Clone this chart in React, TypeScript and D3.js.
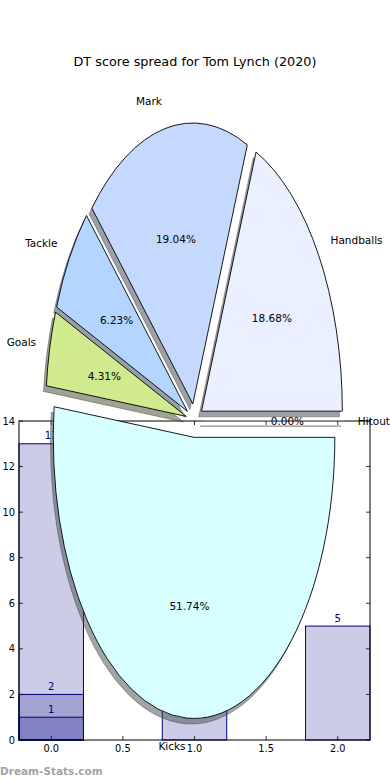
import React from 'react';
import * as d3 from 'd3';

const pieLabels = ['Hitout', 'Handballs', 'Mark', 'Tackle', 'Goals', 'Kicks'];
const piePercents = [0, 18.68, 19.04, 6.23, 4.31, 51.74];
const pieColors = ['#ffffff', '#eaf0ff', '#c5d9ff', '#b3d5ff', '#d0eb8d', '#d8ffff'];

const barPositions = [0, 0, 0, 1, 2];
const barValues = [13, 2, 1, 8, 5];
const yTicks = [0, 2, 4, 6, 8, 10, 12, 14];
const xTicks = [0, 0.5, 1, 1.5, 2];

const W = 390;
const H = 780;
const FONT = 'DejaVu Sans, sans-serif';

// bar axes geometry
const AX_L = 19, AX_R = 370, AX_T = 421, AX_B = 740;
const BAR_W = 0.45;

// pie geometry (stretched, matplotlib non-equal aspect)
const CX = 194.5, CY = 420.5, RX = 140.8, RY = 281;
const EXPLODE = 0.06;

function shade(c: string) {
  const col = d3.rgb(c);
  return d3.rgb(col.r * 0.3, col.g * 0.3, col.b * 0.3).formatHex();
}

export default function App() {
  const xs = d3.scaleLinear().domain([-BAR_W / 2, 2 + BAR_W / 2]).range([AX_L, AX_R]);
  const ys = d3.scaleLinear().domain([0, 14]).range([AX_B, AX_T]);

  const pie = d3.pie<number>().sort(null).value((d) => d)
    .startAngle(Math.PI / 2).endAngle(Math.PI / 2 - 2 * Math.PI);
  const arcs = pie(piePercents);
  const arcGen = d3.arc<d3.PieArcDatum<number>>().innerRadius(0).outerRadius(1);

  const slices = arcs.map((a, i) => {
    const tm = Math.PI / 2 - (a.startAngle + a.endAngle) / 2;
    const ox = CX + EXPLODE * RX * Math.cos(tm);
    const oy = CY - EXPLODE * RY * Math.sin(tm);
    return { a, i, tm, ox, oy };
  });

  const tickStyle = { stroke: '#000', strokeWidth: 0.8 };

  return (
    <svg width={W} height={H} style={{ position: 'absolute', left: 0, top: 0, background: '#fff' }}
      fontFamily={FONT}>
      <rect x={0} y={0} width={W} height={H} fill="#fff" />
      <text x={195} y={61} textAnchor="middle" dominantBaseline="central" fontSize={12.8} fill="#000">
        DT score spread for Tom Lynch (2020)
      </text>

      {/* bar chart */}
      <g>
        {barValues.map((v, i) => {
          const p = barPositions[i];
          const x0 = xs(p - BAR_W / 2);
          const x1 = xs(p + BAR_W / 2);
          return (
            <rect key={'b' + i} x={x0} y={ys(v)} width={x1 - x0} height={ys(0) - ys(v)}
              fill="#000080" fillOpacity={0.2} stroke="#000080" strokeWidth={1} />
          );
        })}
        {barValues.map((v, i) => (
          <text key={'bl' + i} x={xs(barPositions[i])} y={ys(v) - 8} textAnchor="middle"
            dominantBaseline="central" fontSize={10} fill="#000080">{v}</text>
        ))}
        <rect x={AX_L} y={AX_T} width={AX_R - AX_L} height={AX_B - AX_T} fill="none" stroke="#000" strokeWidth={1} />
        {yTicks.map((t) => (
          <g key={'yt' + t}>
            <line x1={AX_L} x2={AX_L + 4} y1={ys(t)} y2={ys(t)} {...tickStyle} />
            <line x1={AX_R - 4} x2={AX_R} y1={ys(t)} y2={ys(t)} {...tickStyle} />
            <text x={AX_L - 4} y={ys(t)} textAnchor="end" dominantBaseline="central" fontSize={9.8} fill="#000">{t}</text>
          </g>
        ))}
        {xTicks.map((t) => (
          <g key={'xt' + t}>
            <line x1={xs(t)} x2={xs(t)} y1={AX_B} y2={AX_B - 4} {...tickStyle} />
            <line x1={xs(t)} x2={xs(t)} y1={AX_T} y2={AX_T + 4} {...tickStyle} />
            <text x={xs(t)} y={AX_B + 8} textAnchor="middle" dominantBaseline="central" fontSize={9.8} fill="#000">{t.toFixed(1)}</text>
          </g>
        ))}
      </g>

      {/* pie shadows */}
      <g>
        {slices.map(({ a, i, ox, oy }) => (
          <path key={'s' + i} d={arcGen(a) || ''}
            transform={`translate(${ox - 0.02 * RX},${oy + 0.02 * RY}) scale(${RX},${RY})`}
            fill={shade(pieColors[i])} fillOpacity={0.5}
            stroke={shade(pieColors[i])} strokeOpacity={0.5} strokeWidth={0.9}
            vectorEffect="non-scaling-stroke" />
        ))}
      </g>
      {/* pie wedges */}
      <g>
        {slices.map(({ a, i, ox, oy }) => (
          <path key={'w' + i} d={arcGen(a) || ''}
            transform={`translate(${ox},${oy}) scale(${RX},${RY})`}
            fill={pieColors[i]} stroke={i === 0 ? '#999' : '#000'} strokeWidth={0.9}
            vectorEffect="non-scaling-stroke" strokeLinejoin="round" />
        ))}
      </g>
      <g>
        {slices.map(({ i, tm, ox, oy }) => {
          const lx = ox + 1.1 * RX * Math.cos(tm);
          const ly = oy - 1.1 * RY * Math.sin(tm);
          const px = ox + 0.6 * RX * Math.cos(tm);
          const py = oy - 0.6 * RY * Math.sin(tm);
          return (
            <g key={'t' + i}>
              <text x={lx} y={ly} textAnchor={Math.cos(tm) > 0 ? 'start' : 'end'}
                dominantBaseline="central" fontSize={10.5} fill="#000">{pieLabels[i]}</text>
              <text x={px} y={py} textAnchor="middle" dominantBaseline="central"
                fontSize={10.5} fill="#000">{piePercents[i].toFixed(2) + '%'}</text>
            </g>
          );
        })}
      </g>

      <text x={0} y={771} dominantBaseline="central" fontSize={10.5} fontWeight="bold" fill="#a3a3a3">
        Dream-Stats.com
      </text>
    </svg>
  );
}
